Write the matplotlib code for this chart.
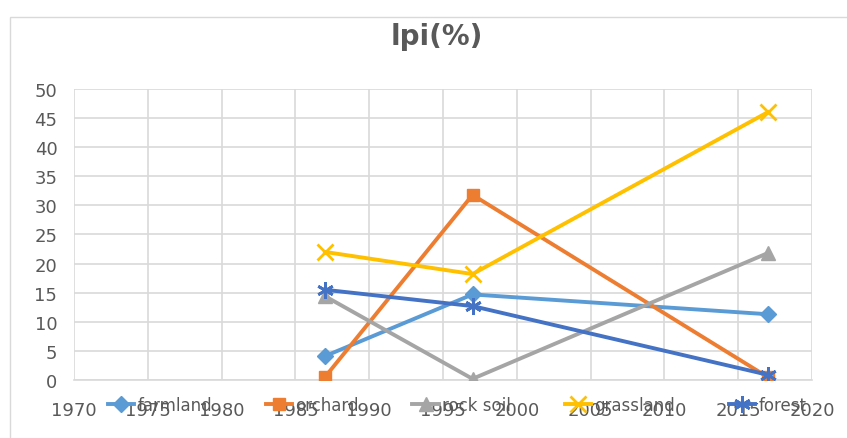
"""lpi(%) line chart"""

import matplotlib
matplotlib.use("Agg")
import matplotlib.pyplot as plt
from matplotlib.patches import Rectangle

# данные
years = [1987, 1997, 2017]
farmland = [4.1, 14.7, 11.3]
orchard = [0.5, 31.8, 0.5]
rock_soil = [14.4, 0.2, 21.8]
grassland = [22.0, 18.2, 46.0]
forest = [15.5, 12.7, 0.9]

x_ticks = list(range(1970, 2021, 5))
y_ticks = list(range(0, 51, 5))

series = [
    ("farmland", farmland, "#5B9BD5", "D", 8),
    ("orchard", orchard, "#ED7D31", "s", 9),
    ("rock soil", rock_soil, "#A5A5A5", "^", 10),
    ("grassland", grassland, "#FFC000", "x", 11),
    ("forest", forest, "#4472C4", (6, 2, 0), 12),
]

text_color = "#595959"
grid_color = "#D9D9D9"

fig = plt.figure(figsize=(8.47, 4.39), dpi=100)
ax = fig.add_axes([0.0874, 0.1321, 0.8713, 0.663])

# рамка области диаграммы
fig.patches.append(Rectangle((0.012, -0.05), 1.05, 1.01, transform=fig.transFigure,
                             fill=False, edgecolor="#D9D9D9", linewidth=1))

handles = []
for name, values, color, marker, ms in series:
    thin = marker == "x" or isinstance(marker, tuple)
    line, = ax.plot(years, values, color=color, linewidth=2.8, marker=marker,
                    markersize=ms, markeredgewidth=2 if thin else 1,
                    markeredgecolor=color, markerfacecolor=color, label=name, zorder=3)
    handles.append(line)

ax.set_xlim(1970, 2020)
ax.set_ylim(0, 50)
ax.set_xticks(x_ticks)
ax.set_yticks(y_ticks)
ax.grid(True, color=grid_color, linewidth=1.2)
ax.set_axisbelow(True)
for side in ("top", "right", "left"):
    ax.spines[side].set_visible(False)
ax.spines["bottom"].set_color(grid_color)
ax.spines["bottom"].set_linewidth(1.2)
ax.tick_params(length=0, labelsize=13, colors=text_color, pad=15)
ax.tick_params(axis="y", pad=12)

fig.text(0.516, 0.915, "lpi(%)", ha="center", va="center", fontsize=20,
         fontweight="bold", color=text_color)

leg = fig.legend(handles=handles, loc="center left", bbox_to_anchor=(0.127, 0.075), ncol=5,
                 frameon=False, fontsize=12, handlelength=1.6, columnspacing=3.2,
                 handletextpad=0.2, borderpad=0, borderaxespad=0)
for t in leg.get_texts():
    t.set_color(text_color)

fig.savefig("out.png", dpi=100)
